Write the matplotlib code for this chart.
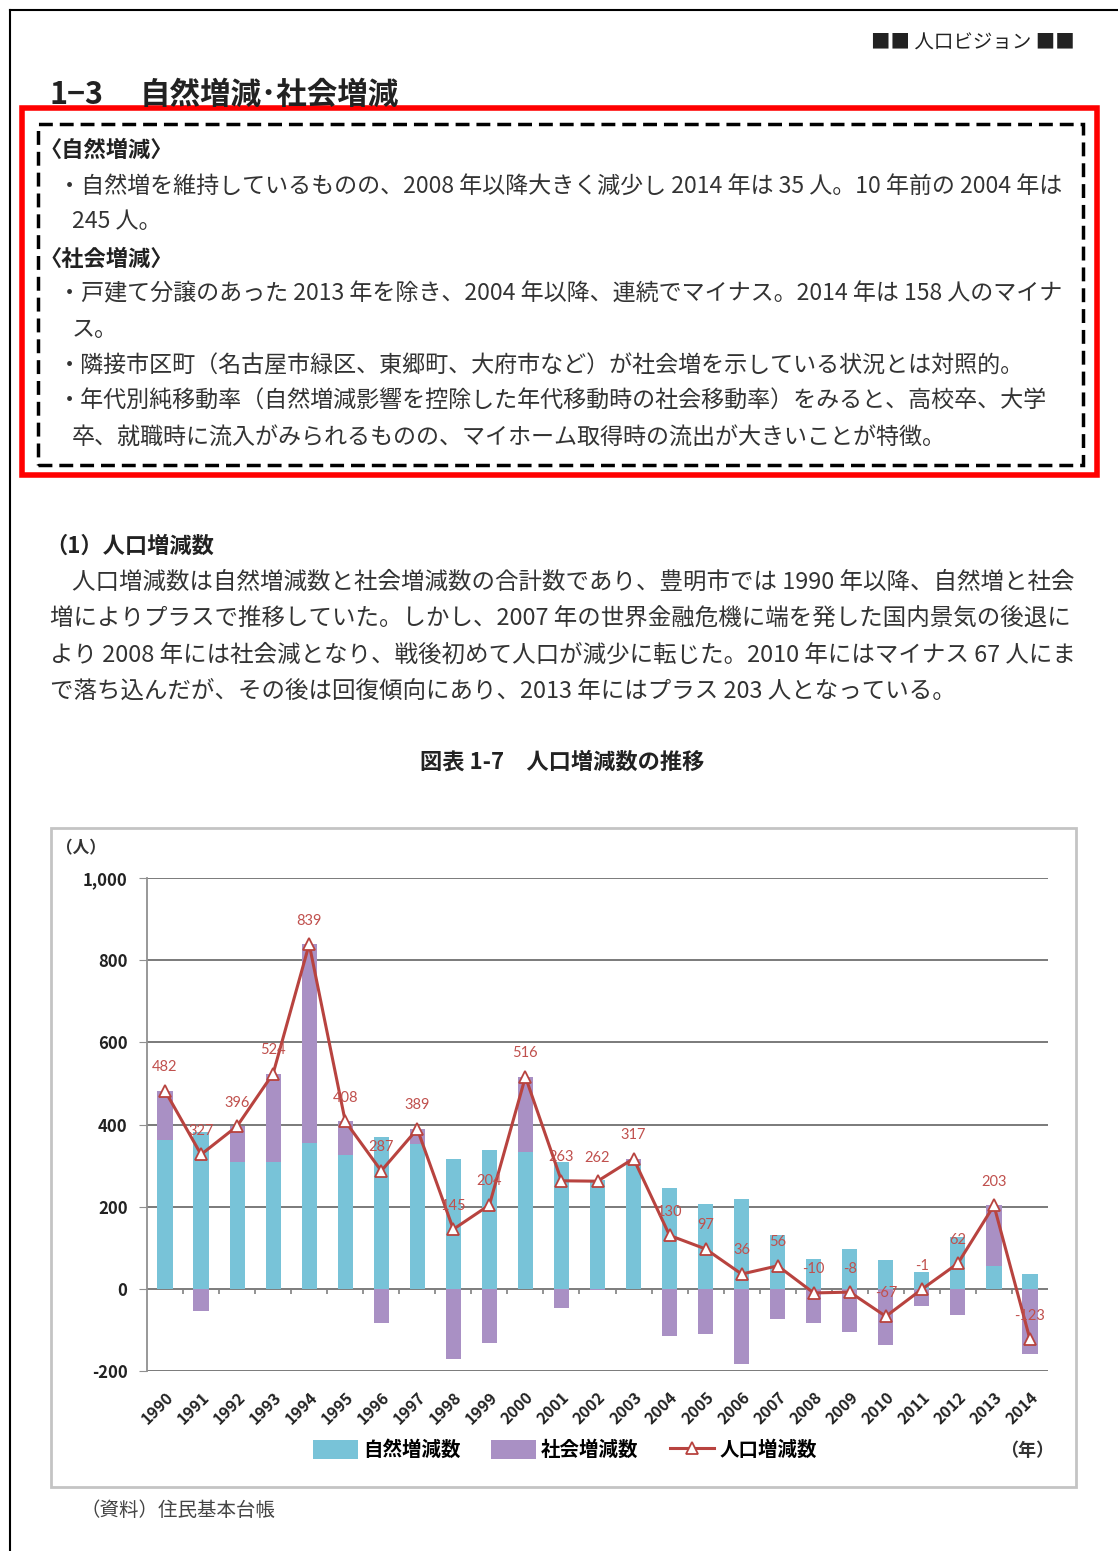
import matplotlib
matplotlib.use("Agg")
import matplotlib.pyplot as plt
import numpy as np
from matplotlib.patches import Rectangle
from matplotlib.lines import Line2D
from matplotlib.ticker import FuncFormatter

plt.rcParams['font.family'] = ['Noto Sans CJK JP', 'DejaVu Sans']

# data
years = [str(y) for y in range(1990, 2015)]
natural = [363, 382, 309, 309, 354, 325, 370, 352, 317, 337, 333, 309, 264,
           305, 245, 207, 218, 130, 73, 98, 70, 40, 125, 55, 35]
social = [119, -55, 87, 215, 485, 83, -83, 37, -172, -133, 183, -46, -2,
          12, -115, -110, -182, -74, -83, -106, -137, -41, -63, 148, -158]
total = [482, 327, 396, 524, 839, 408, 287, 389, 145, 204, 516, 263, 262,
         317, 130, 97, 36, 56, -10, -8, -67, -1, 62, 203, -123]
series_names = ['自然増減数', '社会増減数', '人口増減数']
yticks = [-200, 0, 200, 400, 600, 800, 1000]

W, H = 1118, 1551
fig = plt.figure(figsize=(W / 100, H / 100), dpi=100)


def fx(x):
    return x / W


def fy(y):
    return 1 - y / H


TXT = '#333333'

# page frame (top and left edges)
fig.add_artist(Line2D([fx(10), 1], [fy(10), fy(10)], color='black', lw=1.5))
fig.add_artist(Line2D([fx(10), fx(10)], [fy(10), 0], color='black', lw=1.5))

# header + section title
fig.text(fx(1075), fy(43), '■■ 人口ビジョン ■■', fontsize=14, color='#222222',
         va='center', ha='right')
fig.text(fx(50), fy(95), '1−3', fontsize=22, weight='bold', color='#222222', va='center')
fig.text(fx(140), fy(95), '自然増減･社会増減', fontsize=22, weight='bold',
         color='#222222', va='center')

# red frame + dashed summary box
fig.add_artist(Rectangle((fx(22), fy(475)), (1097 - 22) / W, (475 - 108) / H,
                         transform=fig.transFigure, fill=False, ec='#FF0000', lw=4))
fig.add_artist(Rectangle((fx(38), fy(465)), (1083 - 38) / W, (465 - 124) / H,
                         transform=fig.transFigure, fill=False, ec='black', lw=2.5,
                         linestyle=(0, (4, 2))))

box_lines = [
    (40, 150, '〈自然増減〉', True),
    (58, 186, '・自然増を維持しているものの、2008 年以降大きく減少し 2014 年は 35 人。10 年前の 2004 年は', False),
    (72, 222, '245 人。', False),
    (40, 259, '〈社会増減〉', True),
    (58, 294, '・戸建て分譲のあった 2013 年を除き、2004 年以降、連続でマイナス。2014 年は 158 人のマイナ', False),
    (72, 329, 'ス。', False),
    (58, 366, '・隣接市区町（名古屋市緑区、東郷町、大府市など）が社会増を示している状況とは対照的。', False),
    (58, 401, '・年代別純移動率（自然増減影響を控除した年代移動時の社会移動率）をみると、高校卒、大学', False),
    (72, 438, '卒、就職時に流入がみられるものの、マイホーム取得時の流出が大きいことが特徴。', False),
]
for x, y, s, bold in box_lines:
    fig.text(fx(x), fy(y), s, fontsize=16 if bold else 16.6,
             weight='bold' if bold else 'normal', color='#222222' if bold else TXT, va='center')

# paragraph
fig.text(fx(45), fy(546), '（1）人口増減数', fontsize=16, weight='bold', color='#222222', va='center')
para = [
    (72, 582, '人口増減数は自然増減数と社会増減数の合計数であり、豊明市では 1990 年以降、自然増と社会'),
    (50, 619, '増によりプラスで推移していた。しかし、2007 年の世界金融危機に端を発した国内景気の後退に'),
    (50, 655, 'より 2008 年には社会減となり、戦後初めて人口が減少に転じた。2010 年にはマイナス 67 人にま'),
    (50, 691, 'で落ち込んだが、その後は回復傾向にあり、2013 年にはプラス 203 人となっている。'),
]
for x, y, s in para:
    fig.text(fx(x), fy(y), s, fontsize=16.9, color=TXT, va='center')

fig.text(fx(562), fy(762), '図表 1-7　人口増減数の推移', fontsize=16, weight='bold',
         color='#222222', va='center', ha='center')

# chart frame
fig.add_artist(Rectangle((fx(51), fy(1487)), (1076 - 51) / W, (1487 - 828) / H,
                         transform=fig.transFigure, fill=False, ec='#C4C4C4', lw=2))
fig.text(fx(56), fy(848), '（人）', fontsize=12, weight='bold', color='#333333', va='center')
fig.text(fx(1000), fy(1450), '（年）', fontsize=13, weight='bold', color='#333333', va='center')
fig.text(fx(80), fy(1510), '（資料）住民基本台帳', fontsize=14, color='#444444', va='center')

# chart
ax = fig.add_axes([fx(147), fy(1371), (1048 - 147) / W, (1371 - 878) / H])
x = np.arange(len(years))
nat = np.array(natural)
soc = np.array(social)
soc_bottom = np.where(soc > 0, nat, 0)

blue = '#78C3D8'
purple = '#A990C4'
red = '#B8433F'

b1 = ax.bar(x, nat, width=0.42, color=blue, zorder=2)
b2 = ax.bar(x, soc, width=0.42, bottom=soc_bottom, color=purple, zorder=2)
ln, = ax.plot(x, total, color=red, lw=2.2, marker='^', markersize=8,
              markerfacecolor='white', markeredgecolor=red, markeredgewidth=1.3, zorder=4)

for i, v in enumerate(total):
    ax.annotate(str(v), (i, v), xytext=(0, 17), textcoords='offset points',
                ha='center', va='center', fontsize=10.5, color='#C0504D',
                family=['Lato', 'DejaVu Sans'], zorder=5)

ax.set_xlim(-0.5, len(years) - 0.5)
ax.set_ylim(-200, 1000)
ax.set_yticks(yticks)
ax.yaxis.set_major_formatter(FuncFormatter(lambda v, p: f'{int(v):,}'))
ax.yaxis.grid(True, color='#707070', lw=1.3)
ax.set_axisbelow(True)
ax.axhline(0, color='#808080', lw=1.3, zorder=1.5)
ax.vlines(np.arange(0.5, len(years) - 0.5), -12, 0, color='#808080', lw=1.2, zorder=1.5)

for s in ['top', 'right', 'bottom']:
    ax.spines[s].set_visible(False)
ax.spines['left'].set_color('#909090')
ax.spines['left'].set_linewidth(1.3)
ax.tick_params(axis='y', length=6, color='#909090', labelsize=12, labelcolor='#222222', pad=8)
for t in ax.get_yticklabels():
    t.set_fontweight('bold')

ax.set_xticks(x)
ax.set_xticklabels(years, rotation=45, ha='right', rotation_mode='anchor',
                   fontsize=11.5, fontweight='bold', color='#222222')
ax.tick_params(axis='x', length=0, pad=13)

ax.legend(handles=[b1, b2, ln], labels=series_names, loc='center',
          bbox_to_anchor=(fx(565), fy(1450)), bbox_transform=fig.transFigure,
          ncol=3, frameon=False, handlelength=2.3, handleheight=1.1,
          handletextpad=0.25, columnspacing=1.6,
          prop={'weight': 'bold', 'size': 14})

fig.savefig('out.png', dpi=100)
